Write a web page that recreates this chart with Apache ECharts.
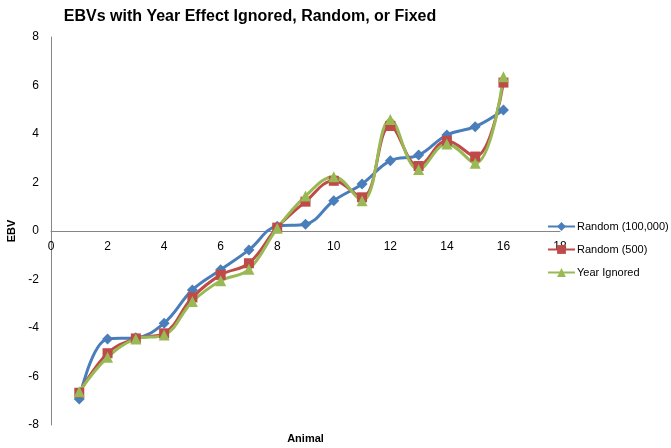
<!DOCTYPE html>
<html><head><meta charset="utf-8">
<script src="https://cdn.jsdelivr.net/npm/echarts@6/dist/echarts.min.js"></script>
<style>html,body{margin:0;padding:0;background:#fff}#c{width:671px;height:448px}</style>
</head><body><div id="c"></div>
<script>
var animals = [1,2,3,4,5,6,7,8,9,10,11,12,13,14,15,16];
var random100000 = [-6.93,-4.45,-4.4,-3.8,-2.43,-1.6,-0.78,0.2,0.28,1.25,1.94,2.9,3.13,3.96,4.3,4.99];
var random500 = [-6.67,-5.04,-4.43,-4.22,-2.74,-1.81,-1.33,0.14,1.21,2.07,1.39,4.33,2.68,3.72,3.07,6.12];
var yearIgnored = [-6.63,-5.21,-4.45,-4.29,-2.91,-2.05,-1.58,0.11,1.44,2.24,1.25,4.6,2.54,3.59,2.79,6.36];
var seriesNames = ['Random (100,000)','Random (500)','Year Ignored'];
var xTicks = {min:0, max:18, interval:2};
var yTicks = {min:-8, max:8, interval:2};

function pairs(v){ return animals.map(function(a,i){ return [a, v[i]]; }); }
var font = 'Liberation Sans';
var chart = echarts.init(document.getElementById('c'));
chart.setOption({
  animation:false,
  title:{text:'EBVs with Year Effect Ignored, Random, or Fixed', left:245, top:4, textAlign:'center',
    textStyle:{fontFamily:font, fontWeight:'bold', fontSize:16, color:'#000'}},
  grid:{left:51, right:111, top:37, bottom:23, containLabel:false, outerBoundsMode:'none'},
  legend:{orient:'vertical', left:542, top:216, itemGap:12, itemWidth:27, itemHeight:11,
    textStyle:{fontFamily:font, fontSize:11, color:'#000', padding:[0,0,0,-3]},
    data:seriesNames},
  xAxis:{type:'value', min:xTicks.min, max:xTicks.max, interval:xTicks.interval,
    offset:-194,
    name:'Animal', nameLocation:'middle', nameGap:202,
    nameTextStyle:{fontFamily:font, fontWeight:'bold', fontSize:11, color:'#000'},
    axisLine:{onZero:false, lineStyle:{color:'#868686', width:1}},
    axisTick:{show:false}, splitLine:{show:false},
    axisLabel:{fontFamily:font, fontSize:12, color:'#000', margin:10}},
  yAxis:{type:'value', min:yTicks.min, max:yTicks.max, interval:yTicks.interval,
    name:'EBV', nameLocation:'middle', nameGap:33, nameRotate:90,
    nameTextStyle:{fontFamily:font, fontWeight:'bold', fontSize:11, color:'#000'},
    axisLine:{show:true, onZero:false, lineStyle:{color:'#868686', width:1}},
    axisTick:{show:false}, splitLine:{show:false},
    axisLabel:{fontFamily:font, fontSize:12, color:'#000', margin:12}},
  series:[
    {name:seriesNames[0], type:'line', smooth:0.4, data:pairs(random100000), symbol:'diamond', symbolSize:11,
      lineStyle:{color:'#4A7EBB', width:3}, itemStyle:{color:'#4A7EBB'}},
    {name:seriesNames[1], type:'line', smooth:0.4, data:pairs(random500), symbol:'rect', symbolSize:10,
      lineStyle:{color:'#BE4B48', width:3}, itemStyle:{color:'#BE4B48'}},
    {name:seriesNames[2], type:'line', smooth:0.4, data:pairs(yearIgnored), symbol:'triangle', symbolSize:11,
      lineStyle:{color:'#98B954', width:3}, itemStyle:{color:'#98B954'}}
  ]
});
</script></body></html>
